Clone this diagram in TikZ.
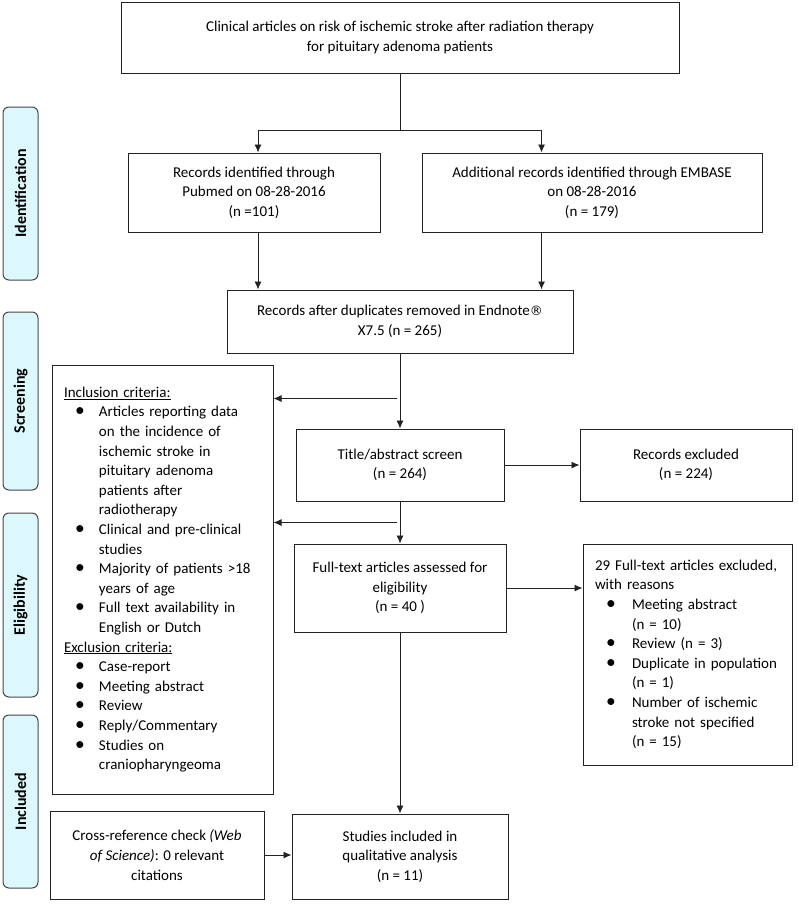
\documentclass[tikz,border=0pt]{standalone}
\usepackage{fontspec}
\setmainfont{Carlito}
\newfontfamily\regfont{DejaVu Sans}
\usepackage{tikz}
\usetikzlibrary{arrows,arrows.meta,shapes,positioning,calc}
\usepackage{xcolor}
\definecolor{stagefill}{RGB}{221,248,252}
\definecolor{stageline}{RGB}{70,70,70}
\definecolor{boxline}{RGB}{35,35,35}
\newcommand{\mainsize}{\fontsize{15}{19.6}\selectfont}
\newcommand{\stagesize}{\fontsize{16}{19}\selectfont}
\newcommand{\bul}{\scalebox{1.3}{\textbullet}}
\tikzstyle{box} = [draw=boxline, line width=1pt, align=center, inner sep=0pt, font=\mainsize]
\tikzstyle{stage} = [draw=stageline, fill=stagefill, line width=1pt, rounded corners=6pt, rotate=90, minimum height=35pt, inner sep=0pt, font=\stagesize\bfseries]
\tikzstyle{arrow} = [line width=0.9pt,-{Latex[length=8pt,width=7pt]},color=boxline]
\tikzstyle{link} = [line width=0.9pt,color=boxline]

\begin{document}
\begin{tikzpicture}[x=1pt, y=-1pt]
\useasboundingbox (0,0) rectangle (798,905);

% Stage labels
\node[stage, minimum width=173pt] (ident) at (20.5,193.5) {Identification};
\node[stage, minimum width=178pt] (screen) at (20.5,401) {Screening};
\node[stage, minimum width=184pt] (elig) at (20.5,605) {Eligibility};
\node[stage, minimum width=173pt] (incl) at (20.5,801.5) {Included};

% Identification
\node[box, minimum width=558pt, minimum height=71pt] (top) at (400,37.5)
  {Clinical articles on risk of ischemic stroke after radiation therapy\\for pituitary adenoma patients};
\node[box, minimum width=252pt, minimum height=79pt] (pubmed) at (254,192.5)
  {Records identified through\\Pubmed on 08-28-2016\\(n =101)};
\node[box, minimum width=340pt, minimum height=79pt] (embase) at (592,192.5)
  {Additional records identified through EMBASE\\on 08-28-2016\\(n = 179)};
\node[box, minimum width=346pt, minimum height=63pt] (endnote) at (400,321.5)
  {Records after duplicates removed in Endnote{\regfont\fontsize{13}{15}\selectfont ®}\\X7.5 (n = 265)};

% Screening and eligibility
\node[box, text width=221pt, minimum height=429pt, align=left] (criteria) at (162.5,579.5)
  {\begin{tabular}{@{}p{23pt}@{}p{24pt}@{}l@{}}
  \multicolumn{3}{@{\hspace{12pt}}l@{}}{\underline{Inclusion criteria:}}\\
  & \bul & Articles reporting data\\
  & & on the incidence of\\
  & & ischemic stroke in\\
  & & pituitary adenoma\\
  & & patients after\\
  & & radiotherapy\\
  & \bul & Clinical and pre-clinical\\
  & & studies\\
  & \bul & Majority of patients >18\\
  & & years of age\\
  & \bul & Full text availability in\\
  & & English or Dutch\\
  \multicolumn{3}{@{\hspace{12pt}}l@{}}{\underline{Exclusion criteria:}}\\
  & \bul & Case-report\\
  & \bul & Meeting abstract\\
  & \bul & Review\\
  & \bul & Reply/Commentary\\
  & \bul & Studies on\\
  & & craniopharyngeoma
  \end{tabular}\par\vspace{14pt}};
\node[box, minimum width=208pt, minimum height=72pt] (title) at (400,465)
  {Title/abstract screen\\(n = 264)};
\node[box, minimum width=212pt, minimum height=72pt] (recexcl) at (686,465)
  {Records excluded\\(n = 224)};
\node[box, minimum width=212pt, minimum height=88pt] (fulltext) at (400,588)
  {Full-text articles assessed for\\eligibility\\(n = 40 )};
\node[box, text width=209pt, minimum height=221pt, align=left] (ftexcl) at (687.5,654.5)
  {\begin{tabular}{@{}p{23pt}@{}p{26pt}@{}l@{}}
  \multicolumn{3}{@{\hspace{12pt}}l@{}}{29 Full-text articles excluded,}\\
  \multicolumn{3}{@{\hspace{12pt}}l@{}}{with reasons}\\
  & \bul & Meeting abstract\\
  & & (n = 10)\\
  & \bul & Review (n = 3)\\
  & \bul & Duplicate in population\\
  & & (n = 1)\\
  & \bul & Number of ischemic\\
  & & stroke not specified\\
  & & (n = 15)
  \end{tabular}\par\vspace{6pt}};

% Included
\node[box, minimum width=214pt, minimum height=88pt] (crossref) at (157,855)
  {Cross-reference check \textit{(Web}\\\textit{of Science)}: 0 relevant\\citations};
\node[box, minimum width=216pt, minimum height=85pt] (studies) at (400,856.5)
  {Studies included in\\qualitative analysis\\(n = 11)};

% Connectors
\coordinate (split) at (400,130);
\draw[link] (top.south) -- (split);
\draw[arrow] (split) -| ([xshift=4pt]pubmed.north);
\draw[arrow] (split) -| ([xshift=120pt]embase.north west);
\draw[arrow] ([xshift=4pt]pubmed.south) -- ([xshift=4pt]pubmed.south |- endnote.north);
\draw[arrow] ([xshift=120pt]embase.south west) -- ([xshift=120pt]embase.south west |- endnote.north);
\draw[arrow] (endnote.south) -- (title.north);
\coordinate (tap1) at ($(endnote.south)!0.6!(title.north)$);
\draw[arrow] ([xshift=-3pt]tap1) -- (tap1 -| criteria.east);
\draw[arrow] (title.east) -- (recexcl.west);
\draw[arrow] (title.south) -- (fulltext.north);
\coordinate (tap2) at ($(title.south)!0.5!(fulltext.north)$);
\draw[arrow] ([xshift=-3pt]tap2) -- (tap2 -| criteria.east);
\draw[arrow] (fulltext.east) -- (fulltext.east -| ftexcl.west);
\draw[arrow] (fulltext.south) -- (studies.north);
\draw[arrow] (crossref.east) -- (crossref.east -| studies.west);
\end{tikzpicture}
\end{document}
